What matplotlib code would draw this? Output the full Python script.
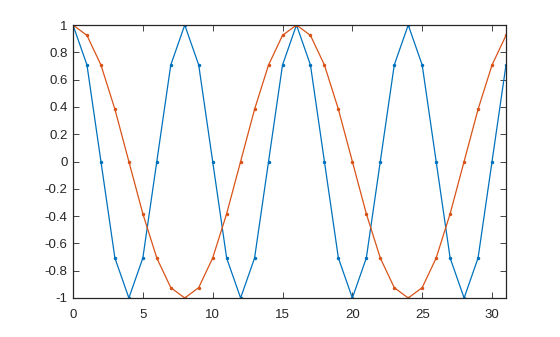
import matplotlib
matplotlib.use("Agg")
import matplotlib.pyplot as plt

n = list(range(32))
blue = [1, 0.7071, 0, -0.7071, -1, -0.7071, 0, 0.7071] * 4
orange = [1, 0.9239, 0.7071, 0.3827, 0, -0.3827, -0.7071, -0.9239,
          -1, -0.9239, -0.7071, -0.3827, 0, 0.3827, 0.7071, 0.9239] * 2
xticks = [0, 5, 10, 15, 20, 25, 30]
yticks = [-1, -0.8, -0.6, -0.4, -0.2, 0, 0.2, 0.4, 0.6, 0.8, 1]
ylabels = ["-1", "-0.8", "-0.6", "-0.4", "-0.2", "0", "0.2", "0.4", "0.6", "0.8", "1"]

plt.rcParams['font.family'] = ['Liberation Sans', 'DejaVu Sans']
fig = plt.figure(figsize=(5.6, 3.37), dpi=100)
ax = fig.add_axes([73/560, 1-298/337, (506-73)/560, (298-25)/337])
ax.plot(n, blue, color='#0072BD', lw=0.9, marker='.', ms=3)
ax.plot(n, orange, color='#D95319', lw=0.9, marker='.', ms=3)
ax.set_xlim(0, 31)
ax.set_ylim(-1, 1)
ax.set_xticks(xticks)
ax.set_yticks(yticks)
ax.set_yticklabels(ylabels)
ax.tick_params(direction='in', top=True, right=True, labelsize=9.5, length=4, width=0.6, colors='#262626')
ax.tick_params(axis='x', pad=8)
ax.tick_params(axis='y', pad=4)
for s in ax.spines.values():
    s.set_linewidth(0.9)
    s.set_color('#262626')
fig.savefig('out.png', dpi=100)
